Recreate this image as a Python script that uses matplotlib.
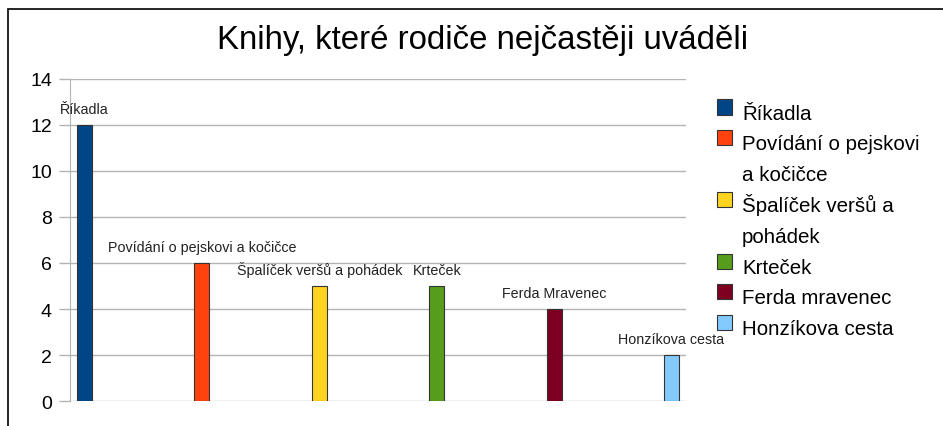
# -*- coding: utf-8 -*-
import matplotlib
matplotlib.use("Agg")
import matplotlib.pyplot as plt
from matplotlib.patches import Rectangle
import numpy as np

plt.rcParams['font.family'] = ['Liberation Sans', 'DejaVu Sans']

# data
knihy = ['Říkadla', 'Povídání o pejskovi a kočičce', 'Špalíček veršů a pohádek',
         'Krteček', 'Ferda Mravenec', 'Honzíkova cesta']
legenda = ['Říkadla', 'Povídání o pejskovi\na kočičce', 'Špalíček veršů a\npohádek',
           'Krteček', 'Ferda mravenec', 'Honzíkova cesta']
pocty = [12, 6, 5, 5, 4, 2]
barvy = ['#004586', '#ff420e', '#ffd320', '#579d1c', '#7e0021', '#83caff']
y_ticks = [0, 2, 4, 6, 8, 10, 12, 14]

W, H = 943, 427
fig = plt.figure(figsize=(W / 100, H / 100), dpi=100)
ax = fig.add_axes([70 / W, 1 - 402.3 / H, 616 / W, (402.3 - 79.5) / H])

x = np.arange(len(pocty))
ax.bar(x, pocty, width=0.128, color=barvy, edgecolor='#333333', linewidth=0.8, zorder=3)

for i in range(len(pocty)):
    ax.annotate(knihy[i], (x[i], pocty[i]), xytext=(0, 8.6), textcoords='offset points',
                ha='center', va='baseline', fontsize=10.3, color='#222222', zorder=4)

ax.set_xlim(-0.124, 5.123)
ax.set_ylim(0, 14)
ax.set_yticks(y_ticks)
ax.set_xticks([])
ax.grid(axis='y', color='#b3b3b3', linewidth=1, zorder=0)
for s in ['top', 'right', 'bottom']:
    ax.spines[s].set_visible(False)
ax.spines['left'].set_color('#b3b3b3')
ax.tick_params(axis='y', length=8, color='#b3b3b3', width=1, pad=5, labelsize=14)

# titulek
fig.text(483 / W, 1 - 40 / H, 'Knihy, které rodiče nejčastěji uváděli',
         ha='center', va='center', fontsize=23.8)

# legenda
radek = 0
for i in range(len(legenda)):
    base = 119.5 + 30.8 * radek
    fig.add_artist(Rectangle((717 / W, 1 - (base - 4) / H), 15 / W, 15 / H,
                             transform=fig.transFigure, facecolor=barvy[i],
                             edgecolor='#333333', linewidth=0.8))
    for cast in legenda[i].split('\n'):
        fig.text(742 / W, 1 - (119.5 + 30.8 * radek) / H, cast, ha='left',
                 va='baseline', fontsize=14.8)
        radek += 1

# ramecek
fig.add_artist(Rectangle((8 / W, -0.1), 2, (H - 10) / H + 0.1, transform=fig.transFigure,
                         fill=False, edgecolor='black', linewidth=1.2))

fig.savefig('out.png', dpi=100)
